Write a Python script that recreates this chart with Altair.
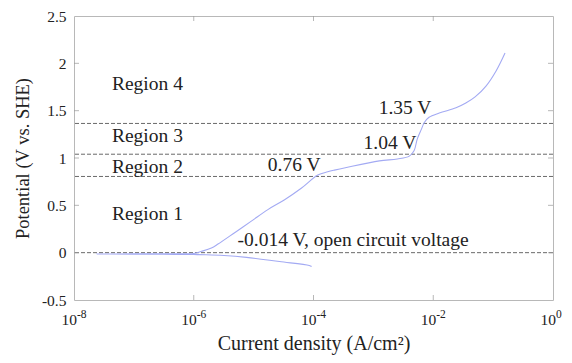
import altair as alt
import pandas as pd

# Polarization curve (current density in A/cm^2, potential in V vs. SHE),
# traced from the cathodic end, through the OCP spike, up the anodic branch
current = [9.3e-5, 8.5e-5, 2.7e-5, 7.6e-6, 3.2e-6, 1.6e-6, 1.0e-6,
           3.0e-7, 1.0e-7, 2.4e-8,
           1.0e-7, 3.0e-7, 1.0e-6, 1.35e-6, 1.97e-6, 2.54e-6, 4.82e-6,
           9.16e-6, 1.73e-5, 3.29e-5, 6.24e-5, 1.18e-4, 1.73e-4, 2.24e-4,
           3.55e-4, 1.26e-3, 2.51e-3, 3.98e-3, 4.8e-3, 5.4e-3, 6.3e-3,
           7.1e-3, 8.5e-3, 1.26e-2, 2.4e-2, 3.5e-2, 5.0e-2, 7.6e-2,
           1.12e-1, 1.58e-1]
potential = [-0.146, -0.135, -0.094, -0.05, -0.03, -0.022, -0.02,
             -0.017, -0.015, -0.014,
             -0.013, -0.012, -0.008, 0.014, 0.049, 0.091, 0.211,
             0.333, 0.455, 0.559, 0.68, 0.82, 0.854, 0.872,
             0.90, 0.97, 0.99, 1.02, 1.08, 1.20, 1.30,
             1.375, 1.43, 1.475, 1.53, 1.58, 1.645, 1.76,
             1.92, 2.11]

# Region boundary potentials (dashed lines, as drawn)
boundaries = [1.365, 1.04, 0.805, 0.0]

# Annotations
left_text = ["Region 4", "Region 3", "Region 2", "Region 1", "-0.014 V, open circuit voltage"]
left_x = [4.3e-8, 4.3e-8, 4.3e-8, 4.3e-8, 5.4e-6]
left_y = [1.786, 1.23, 0.905, 0.412, 0.129]
right_text = ["0.76 V", "1.04 V", "1.35 V"]
right_x = [1.31e-4, 5.2e-3, 9.3e-3]
right_y = [0.926, 1.157, 1.524]

x_ticks = [1e-8, 1e-6, 1e-4, 1e-2, 1]
x_tick_base = ["10", "10", "10", "10", "10"]
x_tick_exp = ["-8", "-6", "-4", "-2", "0"]
y_ticks = [-0.5, 0, 0.5, 1, 1.5, 2, 2.5]
x_inner_ticks = [1e-6, 1e-4, 1e-2]
y_inner_ticks = [0, 0.5, 1, 1.5, 2]

FONT = "Liberation Serif"
W, H = 479, 284

curve_df = pd.DataFrame({"i": current, "E": potential, "order": range(len(current))})
bound_df = pd.DataFrame({"E": boundaries})
left_df = pd.DataFrame({"x": left_x, "y": left_y, "t": left_text})
right_df = pd.DataFrame({"x": right_x, "y": right_y, "t": right_text})
xlab_df = pd.DataFrame({"x": x_ticks, "b": x_tick_base, "e": x_tick_exp})
xt_df = pd.DataFrame({"x": x_inner_ticks})
yt_df = pd.DataFrame({"y": y_inner_ticks})

xscale = alt.Scale(type="log", domain=[1e-8, 1])
yscale = alt.Scale(domain=[-0.5, 2.5])

xaxis = alt.Axis(values=x_ticks, labels=False, ticks=False, domain=False, grid=False,
                 title="Current density (A/cm²)", titleFont=FONT,
                 titleFontSize=20, titleFontWeight="normal", titleColor="#222",
                 titlePadding=33)
yaxis = alt.Axis(values=y_ticks, labelExpr="'' + datum.value", ticks=False, domain=False,
                 grid=False, labelFont=FONT, labelFontSize=15.5, labelColor="#222",
                 labelPadding=8, title="Potential (V vs. SHE)", titleFont=FONT,
                 titleFontSize=18.5, titleFontWeight="normal", titleColor="#222",
                 titlePadding=9, labelFlush=False)

curve = alt.Chart(curve_df).mark_line(color="#a3aaf3", strokeWidth=1.1,
                                      interpolate="catmull-rom").encode(
    x=alt.X("i:Q", scale=xscale, axis=xaxis),
    y=alt.Y("E:Q", scale=yscale, axis=yaxis),
    order="order:Q",
)

rules = alt.Chart(bound_df).mark_rule(color="#6a6a6a", strokeWidth=1, strokeDash=[4, 2]).encode(
    y=alt.Y("E:Q", scale=yscale),
)

text_style = dict(font=FONT, fontSize=19.5, color="#222", baseline="middle")
labels_left = alt.Chart(left_df).mark_text(align="left", **text_style).encode(
    x=alt.X("x:Q", scale=xscale),
    y=alt.Y("y:Q", scale=yscale),
    text="t:N",
)
labels_right = alt.Chart(right_df).mark_text(align="right", **text_style).encode(
    x=alt.X("x:Q", scale=xscale),
    y=alt.Y("y:Q", scale=yscale),
    text="t:N",
)

xlab_base = alt.Chart(xlab_df).mark_text(font=FONT, fontSize=15.5, color="#222",
                                         align="right", baseline="middle", dx=3).encode(
    x=alt.X("x:Q", scale=xscale), y=alt.value(H + 20), text="b:N")
xlab_exp = alt.Chart(xlab_df).mark_text(font=FONT, fontSize=11.5, color="#222",
                                        align="left", baseline="middle", dx=3).encode(
    x=alt.X("x:Q", scale=xscale), y=alt.value(H + 15), text="e:N")

tick_style = dict(color="#999999", thickness=1, size=10, clip=True)
xt_bottom = alt.Chart(xt_df).mark_tick(**tick_style).encode(
    x=alt.X("x:Q", scale=xscale), y=alt.value(H))
xt_top = alt.Chart(xt_df).mark_tick(**tick_style).encode(
    x=alt.X("x:Q", scale=xscale), y=alt.value(0))
yt_left = alt.Chart(yt_df).mark_tick(**tick_style).encode(
    y=alt.Y("y:Q", scale=yscale), x=alt.value(0))
yt_right = alt.Chart(yt_df).mark_tick(**tick_style).encode(
    y=alt.Y("y:Q", scale=yscale), x=alt.value(W))

chart = alt.layer(rules, curve, labels_left, labels_right, xlab_base, xlab_exp,
                  xt_bottom, xt_top, yt_left, yt_right).properties(
    width=W, height=H,
    autosize=alt.AutoSizeParams(type="none"),
    padding={"left": 66, "top": 8, "right": 11, "bottom": 55},
).configure_view(stroke="#b8b8b8", strokeWidth=1)

chart.save("out.html", embed_options={"renderer": "svg", "actions": False})
